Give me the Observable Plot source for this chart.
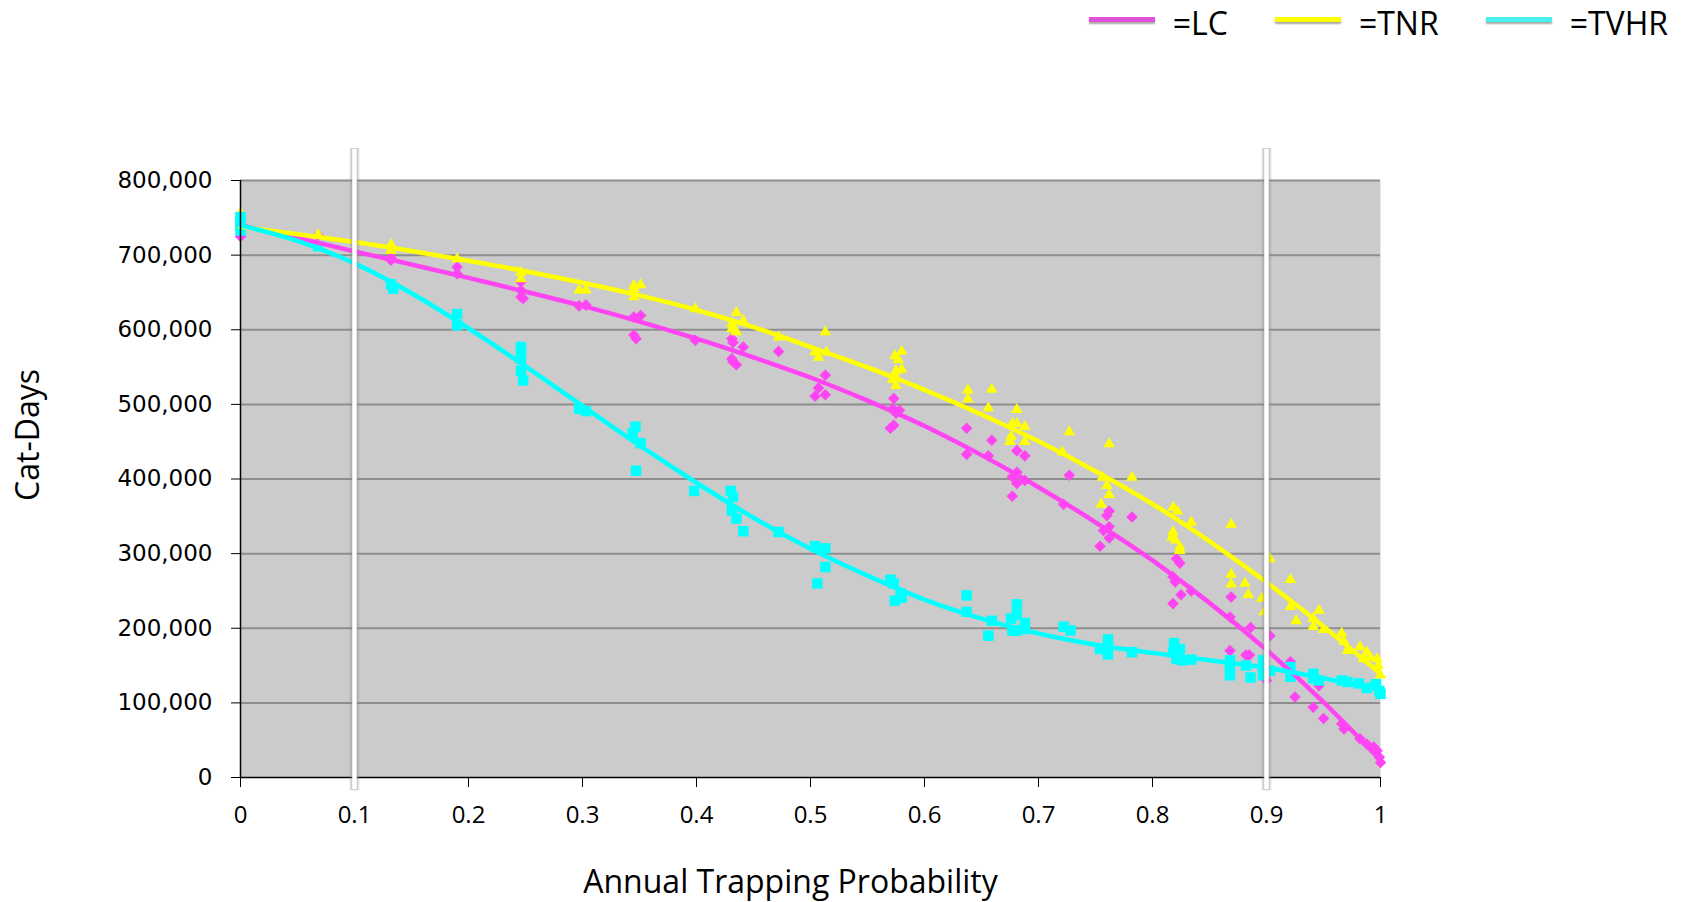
<!DOCTYPE html>
<html>
<head>
<meta charset="utf-8">
<script src="https://cdn.jsdelivr.net/npm/d3@7"></script>
<script src="https://cdn.jsdelivr.net/npm/@observablehq/plot@0.6"></script>
<style>
  html, body { margin: 0; padding: 0; background: #fff; }
  #wrap { position: relative; width: 1685px; height: 902px; overflow: hidden; }
  #legend { position: absolute; top: 1px; right: 17px; display: flex; align-items: center;
            font-family: "Open Sans", sans-serif; font-size: 32px; line-height: normal; color: #000; }
  .item { display: flex; align-items: center; }
  .sw { width: 66px; height: 5px; margin-right: 18px; transform: translateY(-3px);
        box-shadow: 0 2px 2px rgba(0,0,0,0.35); }
  .lab { margin-right: 47px; white-space: nowrap; }
  .item:last-child .lab { margin-right: 0; }
</style>
</head>
<body>
<div id="wrap"><div id="legend"></div></div>
<script>
// ---------- data ----------
const seriesNames = ["LC", "TNR", "TVHR"];
const seriesColors = ["#ff44f4", "#ffff00", "#00ffff"];
const legendColors = ["#e052dc", "#ffff00", "#48f0ee"];
const seriesSymbols = ["diamond2", "triangle", "square"];

const xTicks = [0, 0.1, 0.2, 0.3, 0.4, 0.5, 0.6, 0.7, 0.8, 0.9, 1];
const yTicks = [0, 100000, 200000, 300000, 400000, 500000, 600000, 700000, 800000];
const markerLines = [0.1, 0.9];

// fitted trend lines, read at these trapping probabilities
const lineP = [0, 0.05, 0.1, 0.15, 0.2, 0.25, 0.3, 0.35, 0.4, 0.45, 0.5,
               0.55, 0.6, 0.65, 0.7, 0.75, 0.8, 0.85, 0.9, 0.95, 1];
const lcLine = [740000, 723000, 705000, 687500, 669500, 651000, 632000, 611000, 588000, 563000, 536000,
                505000, 471000, 432000, 389000, 342000, 291000, 234000, 171000, 101000, 23000];
const tnrLine = [738000, 728000, 717500, 705500, 692500, 678500, 663000, 646000, 626500, 603500, 577000,
                 549500, 519500, 486500, 450500, 410500, 366500, 316500, 261500, 202500, 139000];
const tvhrLine = [740000, 719000, 689000, 649000, 602000, 551000, 498000, 445000, 395000, 348000, 306500,
                  270500, 238500, 213000, 193000, 178000, 167000, 157000, 147000, 133000, 117000];

// scatter points [probability, cat-days]
const lcPoints = [
  [0, 725000], [0, 740000], [0.068, 726000], [0.132, 696000], [0.132, 693000],
  [0.19, 684000], [0.19, 675000], [0.246, 664000], [0.246, 653000], [0.246, 644000], [0.248, 642000],
  [0.297, 632000], [0.303, 633000], [0.345, 617000], [0.351, 619000], [0.345, 593000], [0.347, 588000],
  [0.399, 586000], [0.431, 588000], [0.432, 583000], [0.441, 577000], [0.431, 561000], [0.432, 557000],
  [0.435, 553000], [0.472, 571000], [0.513, 539000], [0.507, 522000], [0.504, 511000], [0.513, 513000],
  [0.573, 508000], [0.572, 494000], [0.578, 492000], [0.575, 488000], [0.570, 468000], [0.573, 472000],
  [0.637, 468000], [0.637, 433000], [0.656, 431000], [0.659, 452000],
  [0.681, 438000], [0.688, 431000], [0.681, 409000], [0.677, 403000], [0.681, 394000], [0.677, 377000], [0.688, 398000],
  [0.722, 366000], [0.727, 405000],
  [0.762, 357000], [0.760, 351000], [0.762, 336000], [0.757, 331000], [0.762, 321000], [0.754, 310000],
  [0.782, 349000],
  [0.821, 293000], [0.824, 287000], [0.818, 269000], [0.820, 262000], [0.834, 250000], [0.825, 245000], [0.818, 233000],
  [0.869, 242000], [0.868, 215000], [0.868, 170000], [0.882, 164000], [0.885, 164000], [0.886, 201000],
  [0.898, 139000], [0.900, 130000], [0.903, 190000], [0.921, 155000], [0.925, 108000],
  [0.941, 94000], [0.946, 123000], [0.950, 79000], [0.966, 72000], [0.968, 65000],
  [0.982, 52000], [0.988, 45000], [0.994, 41000], [0.997, 36000], [0.999, 27000], [1.0, 20000]
];
const tnrPoints = [
  [0, 756000], [0, 745000], [0.068, 727000], [0.132, 714000], [0.132, 706000], [0.19, 695000],
  [0.246, 677000], [0.246, 668000], [0.297, 653000], [0.303, 653000],
  [0.345, 659000], [0.351, 660000], [0.345, 655000], [0.345, 644000], [0.399, 628000],
  [0.435, 623000], [0.441, 612000], [0.431, 608000], [0.431, 601000], [0.435, 597000], [0.472, 590000],
  [0.513, 597000], [0.504, 570000], [0.507, 563000], [0.514, 570000],
  [0.574, 565000], [0.58, 571000], [0.577, 560000], [0.575, 545000], [0.58, 547000], [0.572, 533000], [0.575, 525000], [0.575, 536000],
  [0.638, 519000], [0.638, 507000], [0.656, 495000], [0.659, 520000],
  [0.681, 493000], [0.677, 474000], [0.681, 474000], [0.688, 470000], [0.676, 457000], [0.675, 450000], [0.688, 450000],
  [0.721, 436000], [0.727, 463000],
  [0.762, 447000], [0.756, 402000], [0.760, 391000], [0.762, 379000], [0.755, 366000], [0.782, 402000],
  [0.818, 362000], [0.822, 357000], [0.834, 342000], [0.818, 329000], [0.817, 322000], [0.820, 318000], [0.824, 309000], [0.824, 304000],
  [0.869, 339000], [0.869, 272000], [0.869, 259000], [0.881, 260000], [0.884, 245000],
  [0.896, 240000], [0.898, 222000], [0.903, 293000],
  [0.921, 265000], [0.921, 229000], [0.926, 210000],
  [0.946, 224000], [0.941, 213000], [0.941, 202000], [0.950, 198000],
  [0.966, 193000], [0.968, 182000], [0.971, 170000],
  [0.982, 175000], [0.988, 168000], [0.985, 159000], [0.991, 161000],
  [0.997, 159000], [0.998, 150000], [1.0, 137000]
];
const tvhrPoints = [
  [0, 751000], [0, 745000], [0, 740000], [0, 733000], [0.068, 712000],
  [0.132, 661000], [0.134, 655000], [0.19, 621000], [0.19, 606000],
  [0.246, 577000], [0.246, 570000], [0.246, 561000], [0.246, 545000], [0.248, 532000],
  [0.297, 494000], [0.303, 491000],
  [0.3465, 470000], [0.344, 461000], [0.351, 448000], [0.347, 411000], [0.398, 384000],
  [0.43, 384000], [0.432, 376000], [0.431, 358000], [0.435, 347000], [0.441, 330000], [0.472, 329000],
  [0.504, 310000], [0.513, 307000], [0.513, 282000], [0.506, 260000],
  [0.57, 265000], [0.573, 260000], [0.579, 247000], [0.574, 237000], [0.580, 241000],
  [0.637, 244000], [0.637, 222000], [0.656, 190000], [0.659, 210000],
  [0.681, 232000], [0.681, 218000], [0.676, 213000], [0.688, 207000], [0.677, 197000], [0.681, 197000], [0.688, 199000],
  [0.722, 202000], [0.728, 197000],
  [0.761, 185000], [0.761, 177000], [0.754, 172000], [0.761, 165000], [0.782, 168000],
  [0.819, 180000], [0.824, 172000], [0.818, 168000], [0.821, 159000], [0.826, 157000], [0.834, 158000],
  [0.868, 157000], [0.868, 148000], [0.868, 137000], [0.882, 150000], [0.886, 134000],
  [0.897, 157000], [0.897, 148000], [0.897, 137000], [0.903, 143000],
  [0.921, 148000], [0.921, 135000], [0.941, 139000], [0.941, 133000], [0.946, 130000],
  [0.966, 130000], [0.971, 128000], [0.981, 126000], [0.988, 120000],
  [0.996, 125000], [0.999, 116000], [1.0, 112000]
];

const xLabel = "Annual Trapping Probability";
const yLabel = "Cat-Days";

// ---------- build ----------
const pointSets = [lcPoints, tnrPoints, tvhrPoints];
const lineSets = [lcLine, tnrLine, tvhrLine];
const symbolR = [5.2, 4.3, 5.9];

const dotMarks = pointSets.map((pts, i) =>
  Plot.dot(pts.map(([p, v]) => ({p, v})), {
    x: "p", y: "v", symbol: seriesSymbols[i], r: symbolR[i],
    fill: seriesColors[i], stroke: "none"
  }));
const lineMarks = lineSets.map((vals, i) =>
  Plot.line(lineP.map((p, j) => ({p, v: vals[j]})), {
    x: "p", y: "v", stroke: seriesColors[i], strokeWidth: 4.5, curve: "catmull-rom"
  }));

const chart = Plot.plot({
  width: 1685, height: 902,
  marginTop: 180, marginBottom: 125, marginLeft: 240, marginRight: 305,
  x: {domain: [0, 1]},
  y: {domain: [0, 800000]},
  style: {fontFamily: "Open Sans", background: "transparent", overflow: "visible", color: "#000"},
  marks: [
    Plot.frame({fill: "#cbcbcb", stroke: null}),
    Plot.ruleY(yTicks.filter(d => d > 0), {stroke: "#8e8e8e", strokeWidth: 2}),
    ...dotMarks,
    ...lineMarks,
    Plot.ruleX([0], {stroke: "#000", strokeWidth: 1.5}),
    Plot.ruleY([0], {stroke: "#000", strokeWidth: 1.5}),
    Plot.axisY({ticks: yTicks, tickSize: 9, tickPadding: 19, tickFormat: d3.format(","),
                fontSize: 23, fontFamily: "DejaVu Sans", label: null}),
    Plot.axisX({ticks: xTicks, tickSize: 10, tickPadding: 18, tickFormat: d3.format("~g"),
                fontSize: 24, fontFamily: "Open Sans", label: null}),
    Plot.ruleX(markerLines, {y1: -18000, y2: 843000, stroke: "#888888", strokeOpacity: 0.22, strokeWidth: 10}),
    Plot.ruleX(markerLines, {y1: -17000, y2: 843000, stroke: "#888888", strokeOpacity: 0.3, strokeWidth: 7}),
    Plot.ruleX(markerLines, {y1: -16000, y2: 842000, stroke: "#ffffff", strokeWidth: 4.5}),
    Plot.text([xLabel], {text: d => d, frameAnchor: "bottom", dx: -20, dy: 105,
                         fontSize: 32, fontFamily: "Open Sans", lineAnchor: "middle", textAnchor: "middle"}),
    Plot.text([yLabel], {text: d => d, frameAnchor: "left", rotate: -90, dx: -212, dy: -44,
                         fontSize: 32, fontFamily: "Open Sans", lineAnchor: "middle", textAnchor: "middle"})
  ]
});
chart.style.position = "absolute";
chart.style.left = "0px";
chart.style.top = "0px";
const wrap = document.getElementById("wrap");
wrap.insertBefore(chart, wrap.firstChild);

// legend
const legend = document.getElementById("legend");
seriesNames.forEach((name, i) => {
  const item = document.createElement("div");
  item.className = "item";
  const sw = document.createElement("div");
  sw.className = "sw";
  sw.style.background = legendColors[i];
  const lab = document.createElement("span");
  lab.className = "lab";
  lab.textContent = "=" + name;
  item.appendChild(sw);
  item.appendChild(lab);
  legend.appendChild(item);
});
</script>
</body>
</html>
